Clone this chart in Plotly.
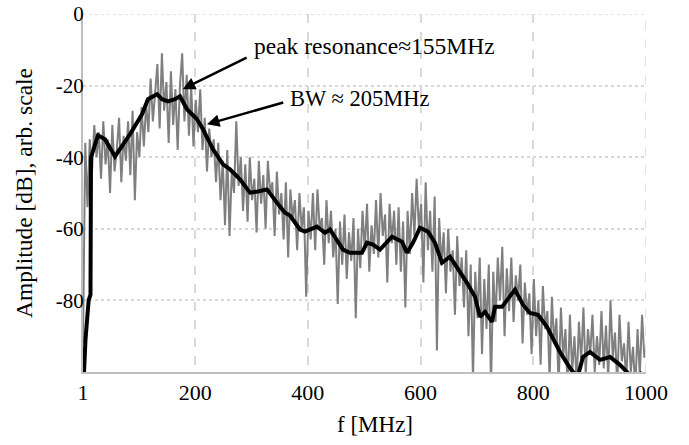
import plotly.graph_objects as go

# Raw spectrum (gray), sampled every 4 MHz
f_raw = list(range(1, 1000, 4))
amp_raw = [
    -92, -36, -54, -35, -44, -31, -40, -33, -46, -30,
    -42, -35, -50, -31, -44, -38, -29, -47, -34, -41,
    -30, -45, -27, -52, -33, -40, -26, -37, -25, -33,
    -18, -30, -22, -14, -32, -11, -27, -19, -36, -16,
    -31, -21, -38, -20, -11, -30, -17, -34, -20, -37,
    -24, -33, -21, -38, -29, -44, -32, -40, -35, -47,
    -36, -52, -41, -59, -38, -62, -44, -50, -30, -48,
    -40, -55, -42, -58, -40, -52, -46, -61, -41, -53,
    -45, -60, -41, -50, -47, -62, -44, -56, -50, -63,
    -47, -68, -49, -57, -52, -66, -50, -60, -54, -79,
    -55, -63, -50, -66, -49, -60, -57, -70, -52, -64,
    -55, -68, -60, -81, -58, -70, -56, -74, -61, -69,
    -57, -85, -60, -71, -55, -66, -53, -72, -59, -67,
    -52, -68, -50, -62, -56, -75, -53, -64, -55, -70,
    -54, -72, -58, -82, -55, -67, -50, -62, -46, -60,
    -53, -75, -47, -66, -55, -72, -51, -94, -57, -70,
    -61, -78, -60, -72, -66, -84, -62, -76, -68, -82,
    -66, -90, -70, -102, -72, -85, -68, -95, -74, -88,
    -70, -104, -72, -86, -68, -80, -65, -90, -71, -83,
    -68, -86, -73, -80, -70, -92, -75, -84, -78, -95,
    -74, -90, -80, -98, -76, -88, -83, -102, -79, -92,
    -85, -104, -82, -96, -88, -105, -84, -100, -90, -103,
    -86, -97, -82, -101, -88, -95, -84, -100, -90, -98,
    -83, -99, -87, -102, -80, -96, -89, -104, -84, -97,
    -92, -103, -86, -100, -93, -105, -88, -101, -84, -96,
]

# Smoothed spectrum (black)
f_smooth = [2.8, 5.4, 11, 14.3, 15.2, 27.6, 40, 57.8, 84.4, 93.3, 105.7, 116.3,
            132.3, 141.2, 151.8, 164.2, 173.1, 185.5, 203.3, 213.9, 231.7, 249.4,
            261.8, 279.6, 297.3, 311.5, 327.5, 345.2, 359.4, 368.3, 386, 394.9,
            416.2, 430.4, 439.3, 462.3, 474.7, 496, 504.9, 515.6, 528, 549.3,
            567, 575.9, 586.5, 599, 613.1, 625.6, 638, 652.2, 664.6, 682.4,
            696.6, 705.4, 714.3, 726.7, 732, 744.5, 767.5, 781.7, 794.1, 808.3,
            824.3, 847.3, 861.5, 870.4, 879.3, 888.2, 900.6, 918.3, 936.1, 953.8,
            966.2, 975, 990, 1000]
amp_smooth = [-100, -91, -80, -78.4, -40, -33.9, -35, -39.8, -33.6, -31.4, -28, -23.8,
              -22.4, -23.8, -24.4, -23.8, -23, -26.6, -29.4, -32.2, -37.8, -42,
              -43.4, -46.2, -49.9, -49.6, -49, -52.7, -55.5, -56.3, -60.2, -60.8,
              -59.4, -61.1, -60.2, -65.8, -66.7, -66.7, -63.9, -64.4, -65.8, -62.2,
              -63.6, -66.7, -63.9, -59.7, -60.8, -63.9, -69.5, -67.8, -70.6, -75.1,
              -79, -84.6, -83.2, -86, -81.8, -81.8, -77, -81.2, -83.5, -84,
              -87.4, -94.4, -98, -100, -101, -95.8, -94.4, -96.6, -95.8, -98,
              -100, -102, -100.5, -103]

x_ticks = [1, 200, 400, 600, 800, 1000]
y_ticks = [0, -20, -40, -60, -80]
y_labels = ["0", "-20", "-40", "-60", "-80"]

FONT = "Liberation Serif, Times New Roman, serif"
GRID = "#d9d9d9"

fig = go.Figure()
fig.add_trace(go.Scatter(x=f_raw, y=amp_raw, mode="lines",
                         line=dict(color="#7f7f7f", width=2), showlegend=False,
                         hoverinfo="skip"))
fig.add_trace(go.Scatter(x=f_smooth, y=amp_smooth, mode="lines",
                         line=dict(color="#000000", width=4), showlegend=False,
                         hoverinfo="skip"))

# Edge gridlines (top at 0 dB, right at 1000 MHz)
fig.add_shape(type="line", xref="paper", yref="y", x0=0, x1=1, y0=y_ticks[0], y1=y_ticks[0],
              line=dict(color=GRID, width=1.5, dash="dot"), layer="below")
fig.add_shape(type="line", xref="x", yref="paper", x0=x_ticks[-1], x1=x_ticks[-1], y0=0, y1=1,
              line=dict(color=GRID, width=1.5, dash="dash"), layer="below")

# Arrows
fig.add_annotation(x=178, y=-21, ax=294, ay=-12, xref="x", yref="y", axref="x", ayref="y",
                   text="", showarrow=True, arrowhead=2, arrowsize=1, arrowwidth=2.5,
                   arrowcolor="black")
fig.add_annotation(x=221, y=-30.8, ax=359, ay=-24.6, xref="x", yref="y", axref="x", ayref="y",
                   text="", showarrow=True, arrowhead=2, arrowsize=1, arrowwidth=2.5,
                   arrowcolor="black")
# Texts
fig.add_annotation(x=300, y=-9, xref="x", yref="y", text="peak resonance≈155MHz",
                   showarrow=False, xanchor="left", yanchor="middle",
                   font=dict(family=FONT, size=23.5, color="black"))
fig.add_annotation(x=364, y=-23.5, xref="x", yref="y", text="BW ≈ 205MHz",
                   showarrow=False, xanchor="left", yanchor="middle",
                   font=dict(family=FONT, size=22.5, color="black"))
# Axis titles
fig.add_annotation(x=-0.105, y=0.5, xref="paper", yref="paper", text="Amplitude [dB], arb. scale",
                   textangle=-90, showarrow=False, xanchor="center", yanchor="middle",
                   font=dict(family=FONT, size=23.5, color="black"))
fig.add_annotation(x=0.519, y=-0.148, xref="paper", yref="paper", text="f [MHz]",
                   showarrow=False, xanchor="center", yanchor="middle",
                   font=dict(family=FONT, size=23, color="black"))

fig.update_layout(
    width=689, height=445,
    margin=dict(l=83, r=43, t=14, b=73),
    paper_bgcolor="white", plot_bgcolor="white",
    font=dict(family=FONT, size=21, color="black"),
    hovermode=False,
    xaxis=dict(range=[1, 1000], tickvals=x_ticks, ticktext=[str(v) for v in x_ticks],
               showgrid=True, gridcolor=GRID, griddash="dash", gridwidth=1.5,
               showline=True, linecolor="#bfbfbf", linewidth=2, ticks="",
               zeroline=False, automargin=False, ticklabeloverflow="allow",
               tickfont=dict(size=22)),
    yaxis=dict(range=[-100, 0], tickvals=y_ticks, ticktext=y_labels,
               showgrid=True, gridcolor=GRID, griddash="dot", gridwidth=1.5,
               showline=True, linecolor="#bfbfbf", linewidth=2, ticks="",
               zeroline=False, automargin=False, ticklabeloverflow="allow",
               ticklabelstandoff=-7, tickfont=dict(size=21)),
)

fig.write_html("out.html", config={"displayModeBar": False},
               post_script="document.body.style.margin='0';document.body.style.overflow='hidden';")
